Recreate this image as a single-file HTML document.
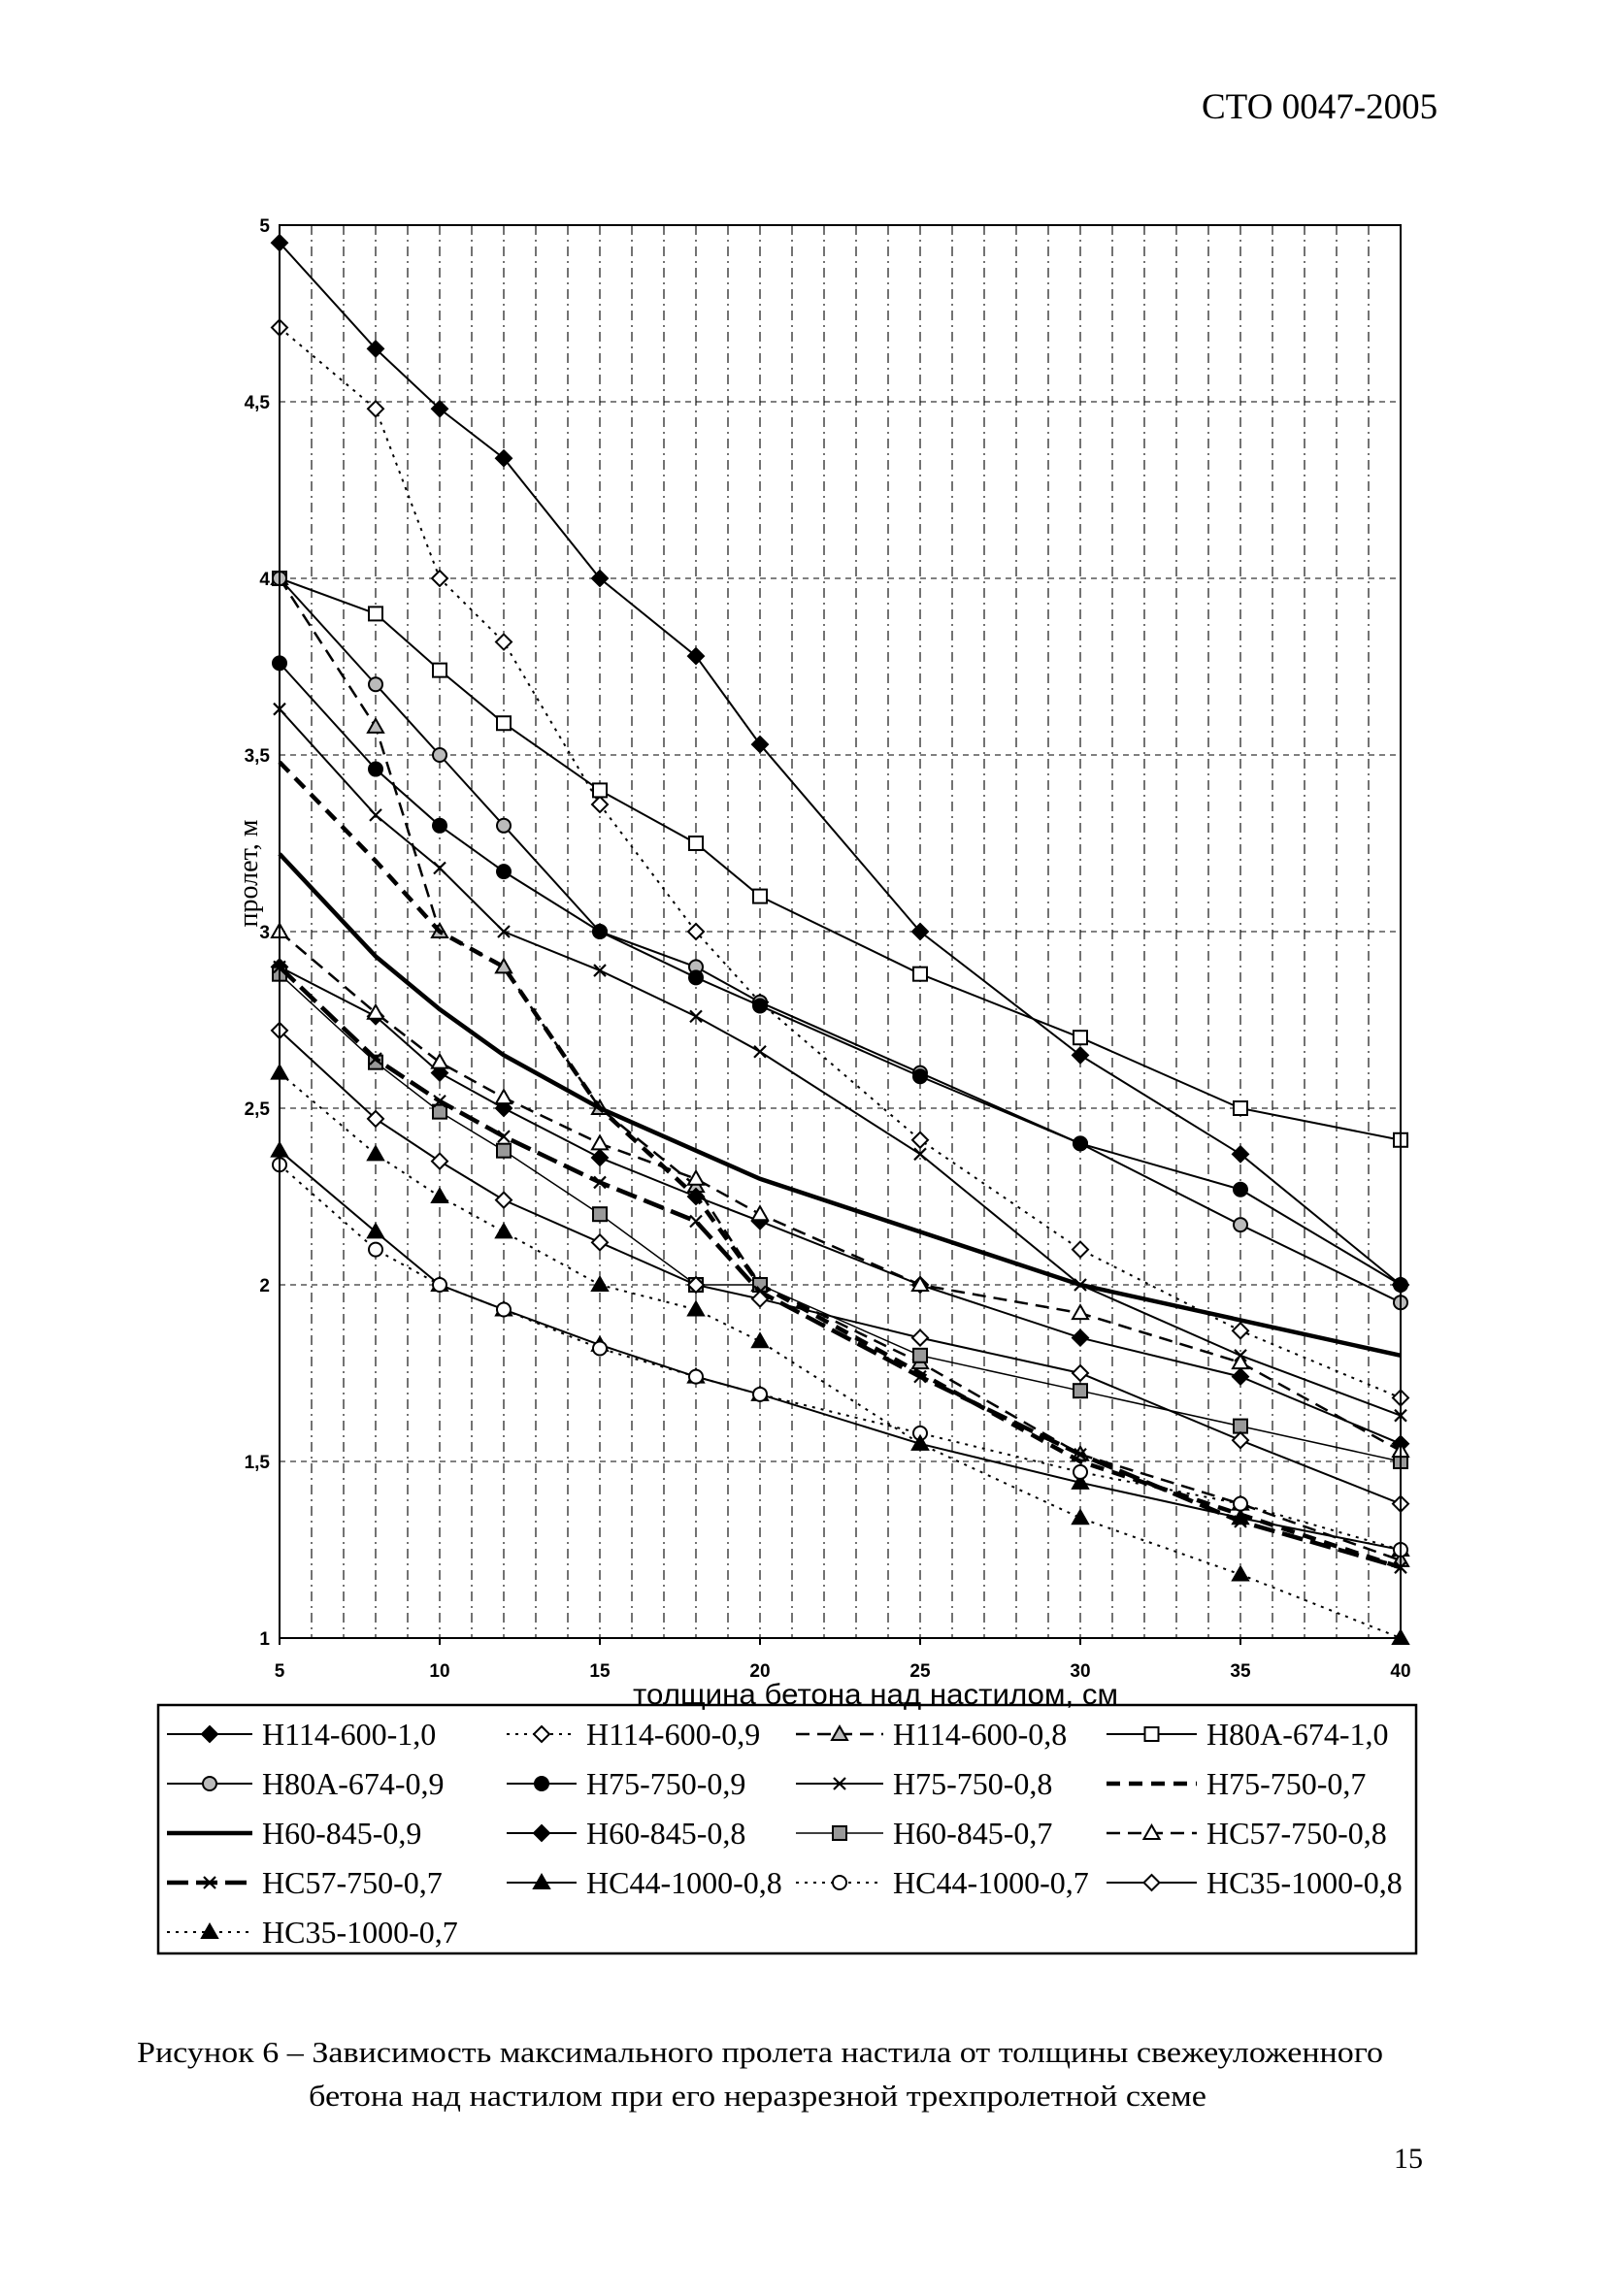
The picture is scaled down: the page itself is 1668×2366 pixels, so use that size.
<!DOCTYPE html>
<html><head><meta charset="utf-8"><style>
body{margin:0;background:#fff}
svg{display:block}
</style></head><body>
<svg id="c" width="1668" height="2366" xmlns="http://www.w3.org/2000/svg" font-family="'Liberation Serif', serif">
<text x="1238" y="122" font-size="37">СТО 0047-2005</text>
<g id="grid"></g>
<g id="series"></g>
<g id="axes"></g>
<text transform="translate(265,900) rotate(-90)" font-size="28" text-anchor="middle">пролет, м</text>
<text x="652" y="1756" font-size="30" textLength="500" lengthAdjust="spacingAndGlyphs" font-family="'Liberation Sans', sans-serif">толщина бетона над настилом, см</text>
<rect x="163" y="1757" width="1296" height="256" fill="none" stroke="#000" stroke-width="2.5"/>
<g id="legend"></g>
<text x="141" y="2125" font-size="31" textLength="1284" lengthAdjust="spacingAndGlyphs">Рисунок 6 – Зависимость максимального пролета настила от толщины свежеуложенного</text>
<text x="318" y="2170" font-size="31" textLength="925" lengthAdjust="spacingAndGlyphs">бетона над настилом при его неразрезной трехпролетной схеме</text>
<text x="1436" y="2234" font-size="30">15</text>
</svg>
<script>
const xValues=[5,8,10,12,15,18,20,25,30,35,40];
const xTicks=[5,10,15,20,25,30,35,40];
const yTicks=[1,1.5,2,2.5,3,3.5,4,4.5,5];
const yTickLabels=["1","1,5","2","2,5","3","3,5","4","4,5","5"];
const seriesNames=["H114-600-1,0","H114-600-0,9","H114-600-0,8","H80A-674-1,0","H80A-674-0,9","H75-750-0,9","H75-750-0,8","H75-750-0,7","H60-845-0,9","H60-845-0,8","H60-845-0,7","HC57-750-0,8","HC57-750-0,7","HC44-1000-0,8","HC44-1000-0,7","HC35-1000-0,8","HC35-1000-0,7"];
const s0=[4.95,4.65,4.48,4.34,4.0,3.78,3.53,3.0,2.65,2.37,2.0];
const s1=[4.71,4.48,4.0,3.82,3.36,3.0,2.8,2.41,2.1,1.87,1.68];
const s2=[4.0,3.58,3.0,2.9,2.5,2.28,2.0,1.78,1.52,1.38,1.22];
const s3=[4.0,3.9,3.74,3.59,3.4,3.25,3.1,2.88,2.7,2.5,2.41];
const s4=[4.0,3.7,3.5,3.3,3.0,2.9,2.8,2.6,2.4,2.17,1.95];
const s5=[3.76,3.46,3.3,3.17,3.0,2.87,2.79,2.59,2.4,2.27,2.0];
const s6=[3.63,3.33,3.18,3.0,2.89,2.76,2.66,2.37,2.0,1.8,1.63];
const s7=[3.48,3.2,3.0,2.9,2.5,2.25,2.0,1.75,1.5,1.35,1.2];
const s8=[3.22,2.93,2.78,2.65,2.5,2.38,2.3,2.15,2.0,1.9,1.8];
const s9=[2.9,2.76,2.6,2.5,2.36,2.25,2.18,2.0,1.85,1.74,1.55];
const s10=[2.88,2.63,2.49,2.38,2.2,2.0,2.0,1.8,1.7,1.6,1.5];
const s11=[3.0,2.77,2.63,2.53,2.4,2.3,2.2,2.0,1.92,1.78,1.53];
const s12=[2.9,2.64,2.52,2.42,2.29,2.18,1.98,1.74,1.52,1.33,1.2];
const s13=[2.38,2.15,2.0,1.93,1.83,1.74,1.69,1.55,1.44,1.34,1.25];
const s14=[2.34,2.1,2.0,1.93,1.82,1.74,1.69,1.58,1.47,1.38,1.25];
const s15=[2.72,2.47,2.35,2.24,2.12,2.0,1.96,1.85,1.75,1.56,1.38];
const s16=[2.6,2.37,2.25,2.15,2.0,1.93,1.84,1.55,1.34,1.18,1.0];
const seriesData=[s0,s1,s2,s3,s4,s5,s6,s7,s8,s9,s10,s11,s12,s13,s14,s15,s16];
const styles=[[2,"","diamond","#000"],[2,"3 6","diamond","#fff"],[2.5,"14 8","triangle","#bbb"],[2,"","square","#fff"],[2,"","circle","#bbb"],[2,"","circle","#000"],[2,"","x","none"],[4.5,"14 9","none",""],[4.5,"","none",""],[2,"","diamond","#000"],[1.5,"","square","#999"],[2.5,"14 8","triangle","#fff"],[4.5,"22 8","x","none"],[2,"","triangle","#000"],[2,"3 6","circle","#fff"],[2,"","diamond","#fff"],[2,"3 6","triangle","#000"]];
const L=288,R=1443,T=232,B=1688;
const sx=v=>L+(v-5)/35*(R-L), sy=v=>B-(v-1)/4*(B-T);
const NS="http://www.w3.org/2000/svg";
function mk(tag,attrs,parent){const e=document.createElementNS(NS,tag);for(const k in attrs)e.setAttribute(k,attrs[k]);parent.appendChild(e);return e;}
const grid=document.getElementById('grid'),axes=document.getElementById('axes'),ser=document.getElementById('series'),leg=document.getElementById('legend');
for(let c=6;c<40;c++){const g=mk('line',{x1:sx(c),x2:sx(c),y1:T,y2:B,stroke:'#000','stroke-width':1.1,'stroke-dasharray':'10 5 2 5'},grid);

}
yTicks.forEach((v,i)=>{if(i>0&&i<yTicks.length-1){const g=mk('line',{x1:L,x2:R,y1:sy(v),y2:sy(v),stroke:'#000','stroke-width':1.1,'stroke-dasharray':'6 5'},grid);

}
const t=mk('text',{x:L-10,y:sy(v)+7,'font-size':19,'text-anchor':'end','font-family':"'Liberation Sans', sans-serif",'font-weight':'bold'},axes);t.textContent=yTickLabels[i];

});
const fr=mk('rect',{x:L,y:T,width:R-L,height:B-T,fill:'none',stroke:'#000','stroke-width':2},axes);


xTicks.forEach(v=>{const t=mk('text',{x:sx(v),y:1728,'font-size':19,'text-anchor':'middle','font-family':"'Liberation Sans', sans-serif",'font-weight':'bold'},axes);t.textContent=v;


const k=mk('line',{x1:sx(v),x2:sx(v),y1:B,y2:B+7,stroke:'#000','stroke-width':2},axes);

});
function marker(type,fill,x,y,p,s){let e;
if(type==='diamond')e=mk('polygon',{points:`${x},${y-s} ${x+s},${y} ${x},${y+s} ${x-s},${y}`,fill,stroke:'#000','stroke-width':2},p);
else if(type==='square')e=mk('rect',{x:x-s+1,y:y-s+1,width:2*s-2,height:2*s-2,fill,stroke:'#000','stroke-width':2},p);
else if(type==='circle')e=mk('circle',{cx:x,cy:y,r:s-1,fill,stroke:'#000','stroke-width':2},p);
else if(type==='triangle')e=mk('polygon',{points:`${x},${y-s} ${x+s},${y+s-2} ${x-s},${y+s-2}`,fill,stroke:'#000','stroke-width':2},p);
else if(type==='x')e=mk('path',{d:`M${x-s+2},${y-s+2}L${x+s-2},${y+s-2}M${x-s+2},${y+s-2}L${x+s-2},${y-s+2}`,stroke:'#000','stroke-width':2.2},p);
if(e){
}}
seriesData.forEach((d,i)=>{const st=styles[i];const g=mk('g',{},ser);


const pts=d.map((v,j)=>sx(xValues[j])+','+sy(v)).join(' ');
mk('polyline',{points:pts,fill:'none',stroke:'#000','stroke-width':st[0],'stroke-dasharray':st[1]},g);
if(st[2]!=='none')d.forEach((v,j)=>marker(st[2],st[3],sx(xValues[j]),sy(v),g,8));
const col=i%4,row=Math.floor(i/4);
const cx=[172,522,820,1140][col],tx=[270,604,920,1243][col],ly=1787+row*51;
const lg=mk('g',{},leg);


mk('line',{x1:cx,x2:tx-10,y1:ly,y2:ly,stroke:'#000','stroke-width':st[0],'stroke-dasharray':st[1]},lg);
if(st[2]!=='none')marker(st[2],st[3],(cx+tx-10)/2,ly,lg,8);
const t=mk('text',{x:tx,y:ly+11,'font-size':32},lg);t.textContent=seriesNames[i];});
</script>
</body></html>
